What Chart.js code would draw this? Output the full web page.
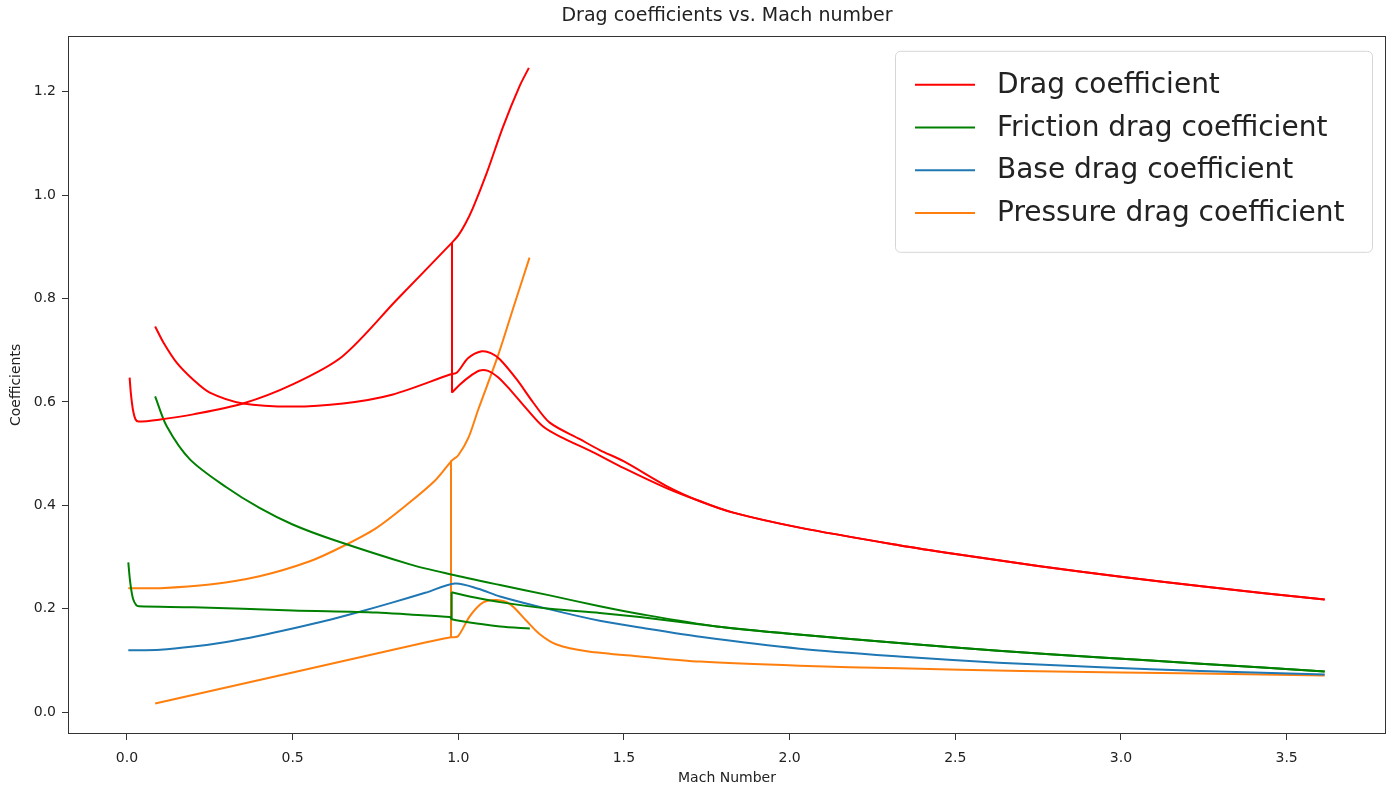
<!DOCTYPE html>
<html>
<head>
<meta charset="utf-8">
<script src="https://cdn.jsdelivr.net/npm/chart.js@4.4.1/dist/chart.umd.min.js"></script>
<style>
html, body { margin: 0; padding: 0; background: #fff; }
</style>
</head>
<body>
<canvas id="grafico" width="1395" height="787"></canvas>
<script>
// Nomes e cores das séries (legenda)
const nomesSeries = ["Drag coefficient", "Friction drag coefficient", "Base drag coefficient", "Pressure drag coefficient"];
const coresSeries = ["#ff0000", "#008000", "#1f77b4", "#ff7f0e"];

// Marcas dos eixos
const marcasX = [0, 0.5, 1, 1.5, 2, 2.5, 3, 3.5];
const marcasY = [0, 0.2, 0.4, 0.6, 0.8, 1.0, 1.2];

// Arrasto total - trecho A (subsônico + extensão até 1.22)
const machArrastoA = [0.008, 0.012, 0.018, 0.026, 0.035, 0.1, 0.2, 0.35, 0.5, 0.65, 0.815, 0.981, 1.0, 1.02, 1.044, 1.086, 1.135, 1.186, 1.213];
const cdArrastoA   = [0.647, 0.615, 0.585, 0.566, 0.562, 0.566, 0.576, 0.597, 0.634, 0.688, 0.798, 0.908, 0.922, 0.943, 0.975, 1.043, 1.132, 1.212, 1.246];
// salto vertical em M=0.98
const machArrastoSalto = [0.981, 0.981];
const cdArrastoSalto   = [0.908, 0.618];
// Arrasto total - trecho supersônico do salto
const machArrastoC = [0.981, 1.005, 1.04, 1.065, 1.09, 1.12, 1.156, 1.207, 1.255, 1.307, 1.406, 1.5, 1.63, 1.73, 1.83, 2.03, 2.33, 2.5, 2.75, 3.0, 3.25, 3.615];
const cdArrastoC   = [0.618, 0.634, 0.652, 0.661, 0.660, 0.648, 0.624, 0.586, 0.553, 0.533, 0.503, 0.472, 0.433, 0.408, 0.386, 0.357, 0.323, 0.306, 0.283, 0.262, 0.243, 0.218];
// Arrasto total - trecho B
const machArrastoB = [0.085, 0.11, 0.15, 0.2, 0.25, 0.35, 0.5, 0.652, 0.8, 0.975, 0.996, 1.03, 1.071, 1.1, 1.126, 1.177, 1.226, 1.276, 1.367, 1.427, 1.5, 1.63, 1.73, 1.83, 2.03, 2.33, 2.5, 2.75, 3.0, 3.25, 3.615];
const cdArrastoB   = [0.746, 0.715, 0.676, 0.643, 0.618, 0.597, 0.591, 0.597, 0.614, 0.653, 0.657, 0.685, 0.698, 0.694, 0.682, 0.643, 0.599, 0.560, 0.528, 0.507, 0.485, 0.437, 0.408, 0.386, 0.357, 0.323, 0.306, 0.283, 0.262, 0.243, 0.218];

// Atrito - trecho A
const machAtritoA = [0.004, 0.01, 0.018, 0.028, 0.036, 0.2, 0.5, 0.754, 0.854, 0.975, 0.98, 1.074, 1.126, 1.216];
const cdAtritoA   = [0.290, 0.250, 0.220, 0.207, 0.205, 0.203, 0.197, 0.193, 0.189, 0.184, 0.180, 0.170, 0.166, 0.162];
const machAtritoSalto = [0.98, 0.98];
const cdAtritoSalto   = [0.180, 0.232];
const machAtritoC = [0.98, 1.05, 1.126, 1.276, 1.427, 1.548, 1.78, 2.0, 2.33, 2.63, 2.94, 3.24, 3.615];
const cdAtritoC   = [0.232, 0.222, 0.213, 0.200, 0.192, 0.184, 0.166, 0.152, 0.134, 0.119, 0.106, 0.094, 0.079];
// Atrito - trecho B
const machAtritoB = [0.085, 0.12, 0.19, 0.3, 0.4, 0.5, 0.62, 0.854, 0.975, 1.126, 1.276, 1.427, 1.548, 1.78, 2.0, 2.33, 2.63, 2.94, 3.24, 3.615];
const cdAtritoB   = [0.611, 0.553, 0.489, 0.435, 0.395, 0.363, 0.334, 0.286, 0.267, 0.246, 0.226, 0.205, 0.190, 0.166, 0.152, 0.134, 0.119, 0.106, 0.094, 0.079];

// Base
const machBase = [0.004, 0.1, 0.2, 0.3, 0.4, 0.5, 0.6, 0.7, 0.8, 0.9, 0.99, 1.06, 1.126, 1.276, 1.427, 1.548, 1.73, 2.03, 2.33, 2.63, 2.94, 3.24, 3.615];
const cdBase   = [0.120, 0.121, 0.127, 0.136, 0.148, 0.162, 0.177, 0.194, 0.212, 0.231, 0.249, 0.239, 0.224, 0.199, 0.177, 0.164, 0.146, 0.123, 0.108, 0.096, 0.087, 0.080, 0.073];

// Pressão - trecho A
const machPressaoA = [0.004, 0.1, 0.25, 0.4, 0.552, 0.652, 0.75, 0.85, 0.93, 0.981, 1.0, 1.03, 1.06, 1.12, 1.17, 1.215];
const cdPressaoA   = [0.240, 0.240, 0.247, 0.263, 0.292, 0.321, 0.355, 0.404, 0.448, 0.487, 0.497, 0.530, 0.585, 0.690, 0.790, 0.879];
const machPressaoSalto = [0.978, 0.978];
const cdPressaoSalto   = [0.487, 0.145];
// Pressão - trecho B (linha reta + corcova)
const machPressaoB = [0.085, 0.5, 0.9, 0.978, 0.999, 1.035, 1.074, 1.116, 1.156, 1.207, 1.246, 1.297, 1.388, 1.548, 1.73, 2.03, 2.33, 2.7, 3.0, 3.24, 3.615];
const cdPressaoB   = [0.017, 0.077, 0.135, 0.145, 0.147, 0.186, 0.212, 0.217, 0.209, 0.176, 0.151, 0.131, 0.118, 0.108, 0.098, 0.090, 0.085, 0.080, 0.077, 0.075, 0.071];

function pontos(xs, ys){
    return xs.map((x, i) => ({x: x, y: ys[i]}));
}

function serie(indice, xs, ys, tensao){
    return {
        label: nomesSeries[indice],
        data: pontos(xs, ys),
        borderColor: coresSeries[indice],
        borderWidth: 2,
        pointRadius: 0,
        showLine: true,
        fill: false,
        tension: tensao
    };
}

const conjuntos = [
    serie(0, machArrastoA, cdArrastoA, 0.3),
    serie(0, machArrastoSalto, cdArrastoSalto, 0),
    serie(0, machArrastoC, cdArrastoC, 0.3),
    serie(0, machArrastoB, cdArrastoB, 0.3),
    serie(1, machAtritoA, cdAtritoA, 0.3),
    serie(1, machAtritoSalto, cdAtritoSalto, 0),
    serie(1, machAtritoC, cdAtritoC, 0.3),
    serie(1, machAtritoB, cdAtritoB, 0.3),
    serie(2, machBase, cdBase, 0.3),
    serie(3, machPressaoA, cdPressaoA, 0.3),
    serie(3, machPressaoSalto, cdPressaoSalto, 0),
    serie(3, machPressaoB, cdPressaoB, 0.3)
];

//Moldura dos eixos e legenda dentro da área
const molduraLegenda = {
    id: "molduraLegenda",
    afterDatasetsDraw(chart){
        const ctx = chart.ctx;
        const a = chart.chartArea;
        ctx.save();
        ctx.strokeStyle = "#333";
        ctx.lineWidth = 1;
        ctx.strokeRect(Math.round(a.left) + 0.5, Math.round(a.top) + 0.5, Math.round(a.right - a.left) - 1, Math.round(a.bottom - a.top) - 1);

        const larg = 477, alt = 201;
        const x0 = a.right - 14 - larg;
        const y0 = a.top + 15;
        ctx.beginPath();
        ctx.roundRect(x0 + 0.5, y0 + 0.5, larg, alt, 5);
        ctx.fillStyle = "rgba(255,255,255,0.8)";
        ctx.fill();
        ctx.strokeStyle = "#d6d6d6";
        ctx.stroke();

        ctx.font = "28px 'DejaVu Sans'";
        ctx.textBaseline = "middle";
        ctx.textAlign = "left";
        nomesSeries.forEach((nome, i) => {
            const y = y0 + 34 + i * 42.7;
            ctx.beginPath();
            ctx.moveTo(x0 + 20, y);
            ctx.lineTo(x0 + 80, y);
            ctx.strokeStyle = coresSeries[i];
            ctx.lineWidth = 2;
            ctx.stroke();
            ctx.fillStyle = "#222";
            ctx.fillText(nome, x0 + 102, y + 1);
        });
        ctx.restore();
    }
};

Chart.defaults.font.family = "'DejaVu Sans', sans-serif";
Chart.defaults.color = "#222";

new Chart("grafico", {
    type: "scatter",
    data: { datasets: conjuntos },
    options: {
        responsive: false,
        animation: false,
        layout: { padding: { left: 0, right: 9, top: 0, bottom: 0 } },
        plugins: {
            legend: { display: false },
            tooltip: { enabled: false },
            title: {
                display: true,
                fullSize: false,
                text: "Drag coefficients vs. Mach number",
                font: { size: 19, weight: "normal" },
                color: "#222",
                padding: { top: 5, bottom: 8 }
            }
        },
        scales: {
            x: {
                type: "linear",
                min: -0.178,
                max: 3.80,
                afterBuildTicks: s => { s.ticks = marcasX.map(v => ({value: v})); },
                afterFit: s => { s.height = 53; },
                ticks: {
                    callback: v => Number(v).toFixed(1),
                    font: { size: 14 },
                    color: "#222",
                    padding: 10,
                    maxRotation: 0,
                    autoSkip: false
                },
                grid: { drawOnChartArea: false, tickLength: 6, color: "#333" },
                border: { display: false },
                title: { display: true, text: "Mach Number", font: { size: 14 }, color: "#222", padding: { top: 0, bottom: 0 } }
            },
            y: {
                type: "linear",
                min: -0.042,
                max: 1.308,
                afterBuildTicks: s => { s.ticks = marcasY.map(v => ({value: v})); },
                afterFit: s => { s.width = 68; },
                ticks: {
                    callback: v => Number(v).toFixed(1),
                    font: { size: 14 },
                    color: "#222",
                    padding: 6,
                    autoSkip: false
                },
                grid: { drawOnChartArea: false, tickLength: 6, color: "#333" },
                border: { display: false },
                title: { display: true, text: "Coefficients", font: { size: 14 }, color: "#222", padding: { top: 8, bottom: 8 } }
            }
        }
    },
    plugins: [molduraLegenda]
});
</script>
</body>
</html>
